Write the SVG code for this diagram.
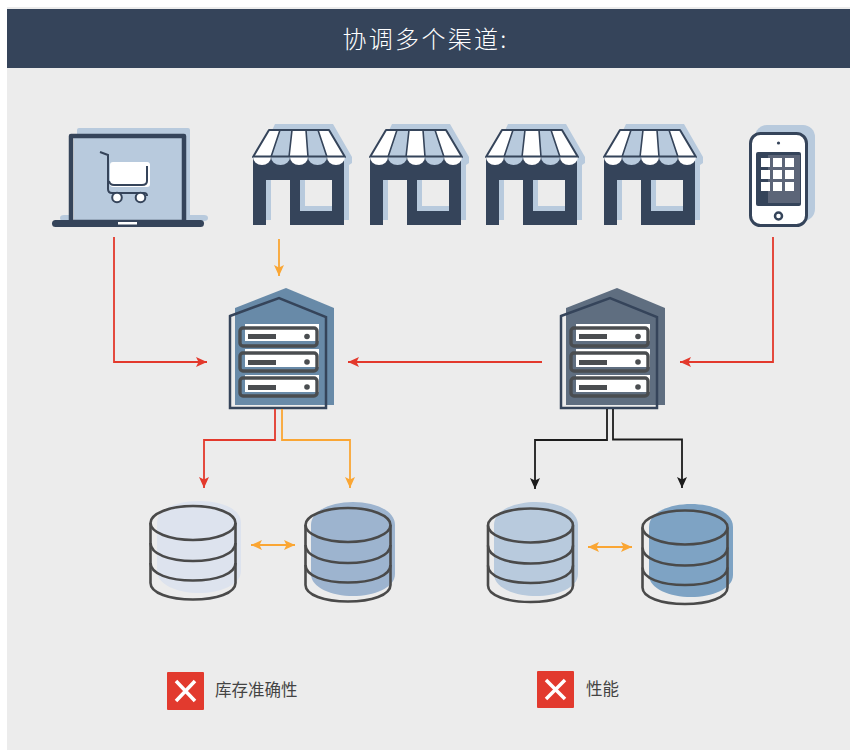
<svg xmlns="http://www.w3.org/2000/svg" xmlns:xlink="http://www.w3.org/1999/xlink" width="850" height="750" viewBox="0 0 850 750">
<style>
.dark{fill:#35445a}
.shadow{fill:#b8cadd}
.ln{fill:none;stroke-width:1.8}
.red{stroke:#e3392c}.org{stroke:#faa634}.blk{stroke:#1c1c1c}
.srv{fill:none;stroke:#4a4d50;stroke-width:3.400}
.dbl{fill:none;stroke:#4a4a4a;stroke-width:2.600}
.lbl{font-family:"Noto Sans CJK SC","Liberation Sans",sans-serif;font-size:16.5px;fill:#444}
</style>
<defs>
<marker id="ar" markerUnits="userSpaceOnUse" markerWidth="14" markerHeight="12" refX="11" refY="5" orient="auto-start-reverse" overflow="visible"><path d="M0,0L11,5L0,10L2.500,5Z" fill="#e3392c"/></marker>
<marker id="ao" markerUnits="userSpaceOnUse" markerWidth="14" markerHeight="12" refX="11" refY="5" orient="auto-start-reverse" overflow="visible"><path d="M0,0L11,5L0,10L2.500,5Z" fill="#faa634"/></marker>
<marker id="ak" markerUnits="userSpaceOnUse" markerWidth="14" markerHeight="12" refX="11" refY="5" orient="auto-start-reverse" overflow="visible"><path d="M0,0L11,5L0,10L2.500,5Z" fill="#1c1c1c"/></marker>
<g id="store">
<path class="shadow" fill-rule="evenodd" d="M275,124H333L352,157V163L349,165V220H295V175H271V220H258V160ZM305,175V206H337V175Z"/>
<path class="dark" d="M253,155H344V225H290V180H266V225H253ZM300,180V211H332V180Z" fill-rule="evenodd"/>
<path d="M269,130H329L345,157H253Z" fill="#fff" stroke="#35445a" stroke-width="2" stroke-linejoin="round"/>
<path class="shadow" d="M280,131H292L289,156H271ZM306,131H318L327,156H308Z"/>
<path d="M280,130L271,157M292,130L289,157M306,130L308,157M318,130L327,157" fill="none" stroke="#35445a" stroke-width="1.6"/>
<path d="M253,157H271A9,8 0 0 1 253,157Z" fill="#fff"/>
<path d="M271,157H290A9.500,8 0 0 1 271,157Z" fill="#b8cadd"/>
<path d="M290,157H308A9,8 0 0 1 290,157Z" fill="#fff"/>
<path d="M308,157H327A9.500,8 0 0 1 308,157Z" fill="#b8cadd"/>
<path d="M327,157H345A9,8 0 0 1 327,157Z" fill="#fff"/>
<path d="M253,156.500H345" stroke="#35445a" stroke-width="2" fill="none"/>
</g>
<g id="server">
<path d="M245,324H319V341H245Z" fill="#fff"/>
<path d="M245,349H319V367H245Z" fill="#fff"/>
<path d="M245,375H319V392H245Z" fill="#fff"/>
<rect class="srv" x="240" y="328" width="77" height="18" rx="3"/>
<rect class="srv" x="240" y="353" width="77" height="18" rx="3"/>
<rect class="srv" x="240" y="378" width="77" height="18" rx="3"/>
<path d="M248,334h28v5h-28ZM248,360h28v5h-28ZM248,385h28v5h-28Z" fill="#4a4d50"/>
<circle cx="307" cy="336.500" r="2.800" fill="#4a4d50"/><circle cx="307" cy="362" r="2.800" fill="#4a4d50"/><circle cx="307" cy="387" r="2.800" fill="#4a4d50"/>
<path d="M230,316L279,298L326,317V408H230Z" fill="none" stroke="#35445a" stroke-width="2.500"/>
</g>
<g id="db">
<path class="dbl" d="M0,0V60C0,70 19,76.500 42.500,76.500S85,70 85,60V0"/>
<ellipse class="dbl" cx="42.500" cy="0" rx="42.500" ry="17"/>
<path class="dbl" d="M0,20C0,31 19,38 42.500,38S85,31 85,20M0,40C0,51 19,57.500 42.500,57.500S85,51 85,40"/>
</g>
</defs>
<rect width="850" height="750" fill="#fff"/>
<rect x="7" y="7" width="843" height="743" fill="#ececec"/>
<g id="header">
<rect class="dark" x="7" y="9" width="843" height="59"/>
<text x="342.500" y="48" font-family="'Noto Sans CJK SC','Liberation Sans',sans-serif" font-size="24" font-weight="300" letter-spacing="2.300" fill="#fff">协调多个渠道:</text>
</g>
<g id="laptop">
<path class="shadow" d="M77,130Q77,128 79,128H188Q190,128 190,130V215H204Q208,215 208,218Q208,221 204,221H64Q60,221 60,218Q60,215 64,215H77Z"/>
<rect x="71" y="136" width="113" height="84" fill="#e9e9e9"/>
<rect class="shadow" x="74" y="138" width="110" height="82"/>
<rect x="71" y="136" width="113" height="86" fill="none" stroke="#35445a" stroke-width="4.500" stroke-linejoin="round"/>
<rect class="dark" x="52" y="220" width="152" height="7" rx="3.500"/>
<rect x="118" y="222" width="19" height="2.500" fill="#fff"/>
<rect x="110" y="162" width="40" height="25" rx="3" fill="#fff"/>
<path d="M100,152L108,155V189Q108,193 112,193H144Q147,193 147,196" fill="none" stroke="#35445a" stroke-width="2"/>
<path d="M109,181Q110,185 114,185H142Q147,185 147,181V166" fill="none" stroke="#35445a" stroke-width="2"/>
<circle cx="117" cy="197.500" r="4.800" fill="#fff" stroke="#35445a" stroke-width="2"/>
<circle cx="140.500" cy="197.500" r="4.800" fill="#fff" stroke="#35445a" stroke-width="2"/>
</g>
<g id="store1"><use href="#store"/></g>
<g id="store2"><use href="#store" x="117"/></g>
<g id="store3"><use href="#store" x="233"/></g>
<g id="store4"><use href="#store" x="351"/></g>
<g id="phone">
<rect class="shadow" x="755" y="125" width="60" height="96" rx="12"/>
<rect x="750.500" y="133.500" width="56" height="92" rx="10" fill="#fff" stroke="#35445a" stroke-width="3"/>
<circle cx="778.500" cy="143" r="1.600" fill="#35445a"/>
<rect class="dark" x="756" y="152" width="45" height="54" rx="2"/>
<rect x="768" y="155" width="32" height="48" fill="#5c6578"/>
<path fill="#fff" d="M761,158h9v9h-9ZM773,158h9v9h-9ZM785,158h9v9h-9ZM761,170h9v9h-9ZM773,170h9v9h-9ZM785,170h9v9h-9ZM761,182h9v9h-9ZM773,182h9v9h-9ZM785,182h9v9h-9Z"/>
<circle cx="778.500" cy="216" r="3.500" fill="#fff" stroke="#35445a" stroke-width="2.500"/>
</g>
<g id="warehouse1">
<path d="M235,308L286,288L334,308V405H235Z" fill="#688aa8"/>
<use href="#server"/>
</g>
<g id="warehouse2">
<path d="M566,308L617,288L665,308V405H566Z" fill="#5f6e80"/>
<use href="#server" x="331"/>
</g>
<g id="db1">
<path d="M157,523C157,508 178,501 199,501S241,508 241,523V571C241,585 220,593 199,593S157,585 157,571Z" fill="#dde3ee"/>
<use href="#db" x="150.500" y="523"/>
</g>
<g id="db2">
<path d="M311,525C311,510 332,502 353,502S395,510 395,525V574C395,588 374,596 353,596S311,588 311,574Z" fill="#9db4cf"/>
<use href="#db" x="305.500" y="525"/>
</g>
<g id="db3">
<path d="M494,525C494,510 515,502 536,502S578,510 578,525V574C578,588 557,596 536,596S494,588 494,574Z" fill="#b8cadd"/>
<use href="#db" x="488" y="525.500"/>
</g>
<g id="db4">
<path d="M649,527C649,512 670,504 691,504S733,512 733,527V575C733,589 712,597 691,597S649,589 649,575Z" fill="#7ea3c4"/>
<use href="#db" x="642.500" y="527.500"/>
</g>
<g id="connectors">
<path class="ln red" marker-end="url(#ar)" d="M114,237V362H207"/>
<path class="ln org" marker-end="url(#ao)" d="M279,239V276"/>
<path class="ln red" marker-end="url(#ar)" d="M542,362H348"/>
<path class="ln red" marker-end="url(#ar)" d="M773,237V362H680"/>
<path class="ln red" marker-end="url(#ar)" d="M275,409V440H204V488"/>
<path class="ln org" marker-end="url(#ao)" d="M282,409V440H350V488"/>
<path class="ln blk" marker-end="url(#ak)" d="M607,409V440H535V489"/>
<path class="ln blk" marker-end="url(#ak)" d="M613,409V439.500H682V488"/>
<path class="ln org" marker-start="url(#ao)" marker-end="url(#ao)" d="M251,545H295"/>
<path class="ln org" marker-start="url(#ao)" marker-end="url(#ao)" d="M588,547H632"/>
</g>
<g id="status1">
<rect x="167" y="672" width="37" height="38" rx="1" fill="#e23a2e"/>
<path d="M176,681L195,701M195,681L176,701" stroke="#fff" stroke-width="3.500" fill="none"/>
<text class="lbl" x="215" y="695.500">库存准确性</text>
</g>
<g id="status2">
<rect x="537" y="671" width="37" height="37" rx="1" fill="#e23a2e"/>
<path d="M546,680L565,699M565,680L546,699" stroke="#fff" stroke-width="3.500" fill="none"/>
<text class="lbl" x="586" y="694.500">性能</text>
</g>
</svg>
